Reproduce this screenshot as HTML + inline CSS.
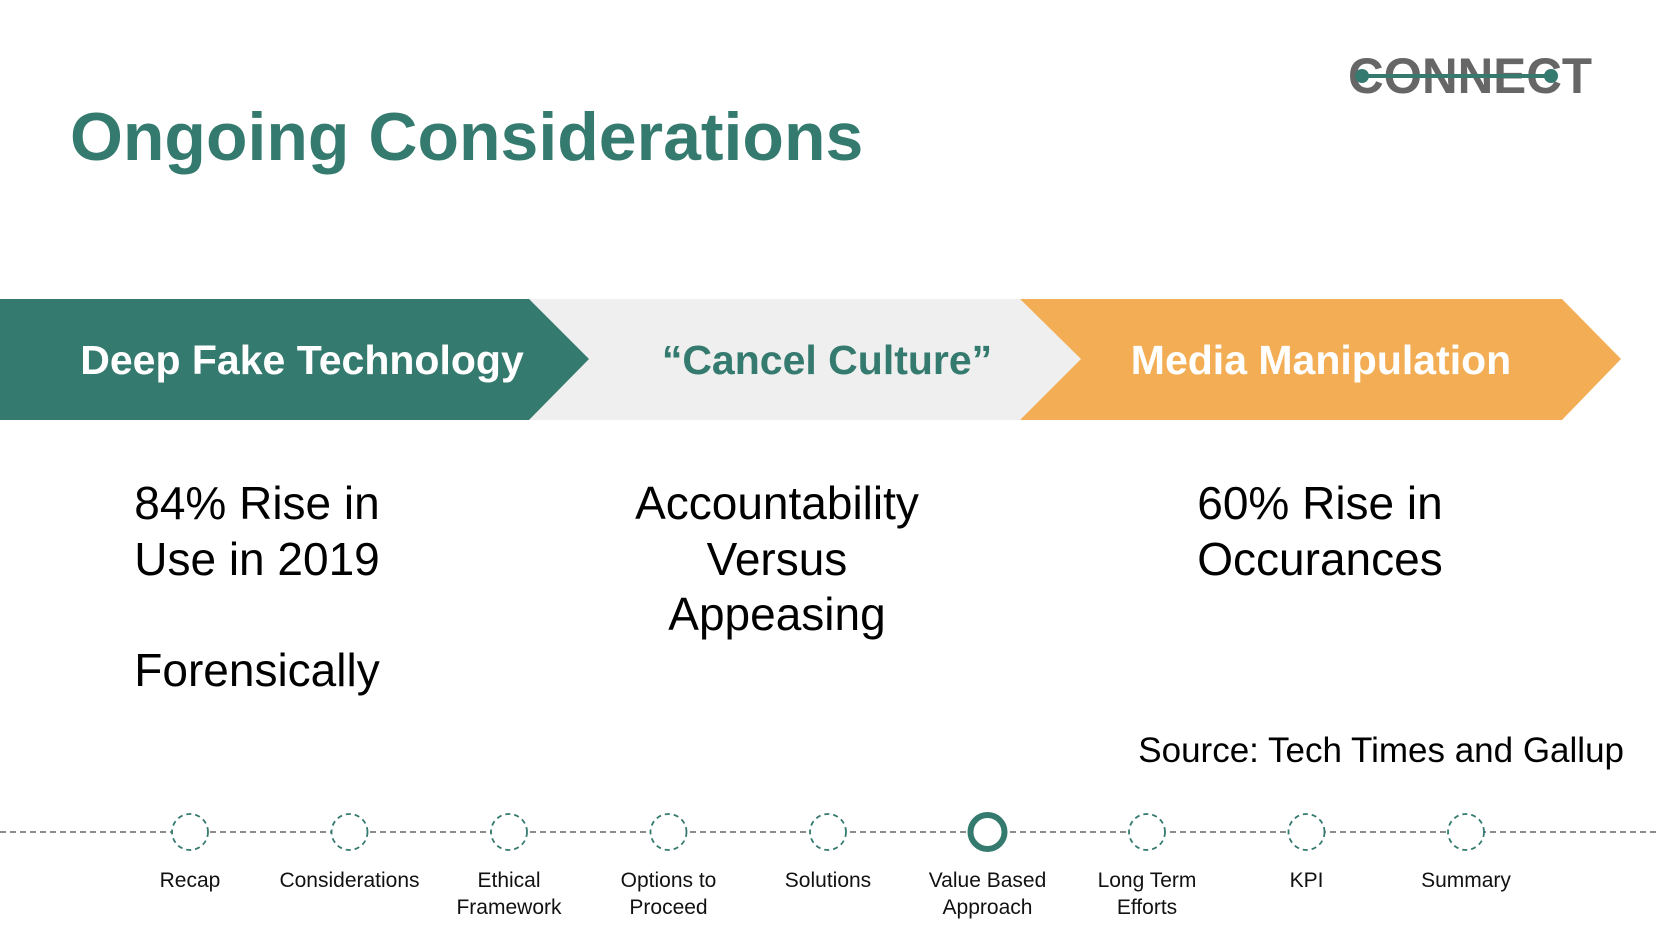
<!DOCTYPE html>
<html><head><meta charset="utf-8"><style>
body{margin:0;width:1658px;height:930px;background:#fff;overflow:hidden;position:relative;font-family:"Liberation Sans",sans-serif}
.abs{position:absolute}
.body{position:absolute;font-size:46px;line-height:55.5px;color:#000;text-align:center;white-space:nowrap}
</style></head><body>
<svg class="abs" style="left:0;top:0" width="1658" height="930">
<g>
<text x="1470" y="93" text-anchor="middle" font-family="Liberation Sans" font-weight="bold" font-size="50" fill="#666" textLength="244" lengthAdjust="spacingAndGlyphs">CONNECT</text>
<line x1="1362" y1="76" x2="1551" y2="76" stroke="#357a6e" stroke-width="4"/>
<circle cx="1362" cy="76" r="7" fill="#357a6e"/><circle cx="1551" cy="76" r="7" fill="#357a6e"/>
</g>
<polygon points="500,299 1020,299 1081,359 1020,420 500,420" fill="#efefef"/>
<polygon points="1020,299 1562,299 1621,359 1562,420 1020,420 1081,359" fill="#f3ae55"/>
<polygon points="0,299 529,299 589,359 529,420 0,420" fill="#357a6e"/>
<text x="302" y="374" text-anchor="middle" font-family="Liberation Sans" font-weight="bold" font-size="41" fill="#fff">Deep Fake Technology</text>
<text x="827" y="374" text-anchor="middle" font-family="Liberation Sans" font-weight="bold" font-size="41" fill="#357a6e">“Cancel Culture”</text>
<text x="1321" y="374" text-anchor="middle" font-family="Liberation Sans" font-weight="bold" font-size="41" fill="#fff">Media Manipulation</text>
<line x1="0" y1="832" x2="1658" y2="832" stroke="#666" stroke-width="1.5" stroke-dasharray="6,4"/>
<g id="tl"></g>
</svg>
<div class="abs" style="left:70px;top:98px;font-size:68px;font-weight:bold;color:#357a6e;white-space:nowrap">Ongoing Considerations</div>
<div class="body" style="left:57px;width:400px;top:476px">84% Rise in<br>Use in 2019<br><br>Forensically</div>
<div class="body" style="left:577px;width:400px;top:476px">Accountability<br>Versus<br>Appeasing</div>
<div class="body" style="left:1120px;width:400px;top:476px">60% Rise in<br>Occurances</div>
<div class="abs" style="right:34px;top:731px;font-size:35px;white-space:nowrap">Source: Tech Times and Gallup</div>
<script>
const labels=[["Recap"],["Considerations"],["Ethical","Framework"],["Options to","Proceed"],["Solutions"],["Value Based","Approach"],["Long Term","Efforts"],["KPI"],["Summary"]];
const activeIndex=5;
const g=document.getElementById('tl');const ns='http://www.w3.org/2000/svg';
labels.forEach((l,i)=>{const x=190+i*159.5;
const c=document.createElementNS(ns,'circle');


c.setAttribute('cx',x);c.setAttribute('cy',832);c.setAttribute('r',i===activeIndex?17:18);c.setAttribute('fill','#fff');c.setAttribute('stroke','#357a6e');
if(i===activeIndex){c.setAttribute('stroke-width',6);}else{c.setAttribute('stroke-width',1.8);c.setAttribute('stroke-dasharray','5,4');}
g.appendChild(c);
l.forEach((s,j)=>{const t=document.createElementNS(ns,'text');


t.setAttribute('x',x);t.setAttribute('y',887+j*27);t.setAttribute('text-anchor','middle');t.setAttribute('font-family','Liberation Sans');t.setAttribute('font-size','21');t.setAttribute('fill','#111');t.textContent=s;g.appendChild(t);});
});
</script>
</body></html>
